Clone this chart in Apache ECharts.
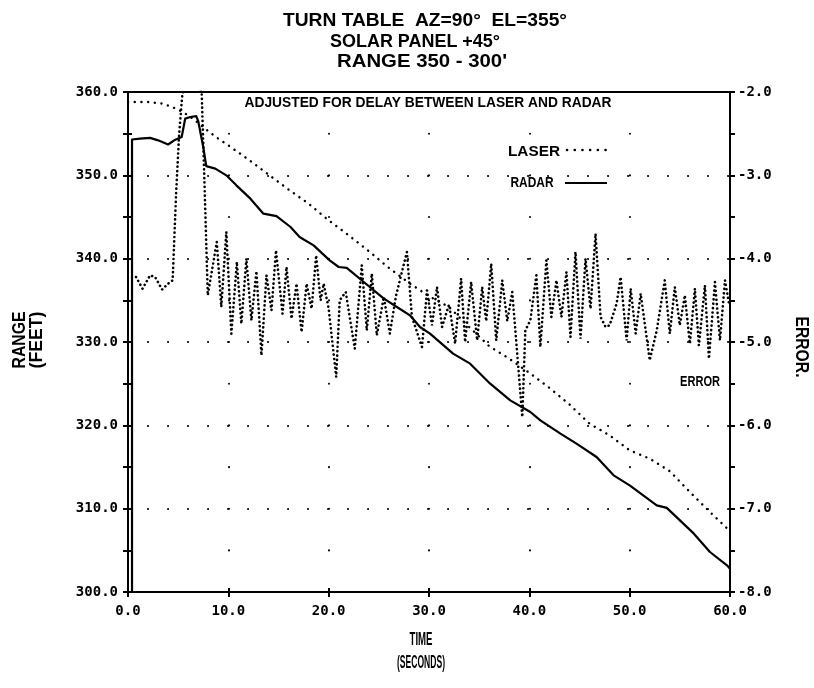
<!DOCTYPE html>
<html><head><meta charset="utf-8">
<script src="https://cdn.jsdelivr.net/npm/echarts@6/dist/echarts.min.js"></script>
<style>html,body{margin:0;padding:0;background:#fff}#c{width:814px;height:688px}</style>
</head><body><div id="c"></div>
<script>
// ---- tick labels ----
const timeTicks = [0, 10, 20, 30, 40, 50, 60];
const timeTickLabels = ['0.0', '10.0', '20.0', '30.0', '40.0', '50.0', '60.0'];
const rangeTicks = [300, 310, 320, 330, 340, 350, 360];
const rangeTickLabels = ['300.0', '310.0', '320.0', '330.0', '340.0', '350.0', '360.0'];
const errorTicks = [-8, -7, -6, -5, -4, -3, -2];
const errorTickLabels = ['-8.0', '-7.0', '-6.0', '-5.0', '-4.0', '-3.0', '-2.0'];

// ---- series data (time in seconds) ----
const laserTime  = [0, 2, 3.5, 5, 6, 7, 8, 9, 10, 12, 14, 16, 18, 20, 22, 24, 26, 28, 30, 32, 34, 36, 38, 40, 42, 44, 46, 48, 50, 52, 54, 56, 58, 60];
const laserRange = [358.8, 358.8, 358.6, 357.9, 357.2, 356.3, 355.3, 354.4, 353.6, 351.9, 350.1, 348.3, 346.6, 344.6, 342.8, 340.9, 338.9, 337.1, 335.5, 334.2, 331.8, 329.5, 328.0, 326.3, 324.5, 322.5, 320.2, 318.8, 317.0, 316.0, 314.5, 312.0, 309.6, 307.3];

const radarTime  = [0.4, 0.4, 1.2, 2.2, 3.0, 4.0, 4.6, 5.35, 5.7, 6.2, 6.8, 7.0, 7.5, 7.8, 8.7, 9.8, 10.8, 12.2, 13.5, 14.8, 16.2, 17.1, 18.5, 20.1, 21.0, 21.8, 23.5, 25.5, 26.8, 28.1, 29.1, 30.1, 32.4, 34.1, 36.1, 38.1, 40.1, 41.1, 43.1, 44.7, 46.7, 48.4, 50.0, 52.7, 53.7, 56.4, 58.0, 59.7, 60.0];
const radarRange = [300.0, 354.3, 354.4, 354.5, 354.2, 353.7, 354.2, 354.6, 356.8, 357.0, 357.1, 356.5, 353.4, 351.1, 350.8, 350.0, 348.8, 347.2, 345.4, 345.1, 343.8, 342.6, 341.6, 339.8, 339.0, 338.9, 337.2, 335.2, 334.2, 333.2, 331.8, 331.0, 328.6, 327.4, 325.0, 323.0, 321.6, 320.6, 319.0, 317.8, 316.2, 314.0, 312.8, 310.4, 310.1, 307.0, 304.8, 303.2, 302.8];

const errorTime  = [0.8, 1.45, 2.2, 2.7, 3.4, 4.0, 4.45, 4.8, 5.1, 5.4, 6.35, 7.35, 7.6, 7.95, 8.85, 9.3, 9.8, 10.3, 10.85, 11.3, 11.8, 12.3, 12.8, 13.3, 13.8, 14.3, 14.75, 15.4, 15.8, 16.3, 16.8, 17.3, 17.8, 18.3, 18.75, 19.2, 19.5, 20.0, 20.75, 21.1, 21.7, 22.6, 23.3, 23.8, 24.3, 24.8, 25.5, 26.1, 26.7, 27.8, 28.3, 29.3, 29.8, 30.3, 30.8, 31.3, 32.0, 32.6, 33.2, 33.6, 34.2, 34.8, 35.3, 35.7, 36.2, 36.7, 37.3, 37.8, 38.3, 39.3, 39.6, 40.1, 40.7, 41.1, 41.7, 42.2, 42.7, 43.2, 43.7, 44.1, 44.6, 45.1, 45.6, 46.1, 46.6, 47.1, 47.6, 48.0, 48.7, 49.1, 49.7, 50.1, 50.6, 51.1, 52.0, 52.7, 53.5, 54.0, 54.5, 55.0, 55.5, 56.0, 56.5, 56.9, 57.5, 57.9, 58.5, 59.0, 59.5, 59.9];
const errorValue = [-4.22, -4.36, -4.20, -4.22, -4.37, -4.30, -4.26, -3.2, -2.5, -2.05, -1.5, -2.03, -3.0, -4.44, -3.80, -4.58, -3.68, -4.90, -4.04, -4.78, -4.00, -4.74, -4.15, -5.16, -4.20, -4.62, -3.90, -4.66, -4.10, -4.72, -4.30, -4.88, -4.30, -4.60, -3.96, -4.50, -4.30, -4.60, -5.42, -4.50, -4.40, -5.08, -4.08, -4.86, -4.18, -4.92, -4.46, -4.90, -4.45, -3.92, -4.70, -5.06, -4.38, -4.80, -4.34, -4.82, -4.55, -5.02, -4.24, -5.00, -4.28, -4.98, -4.34, -4.75, -4.06, -4.98, -4.26, -4.75, -4.40, -5.90, -4.86, -4.74, -4.20, -5.06, -4.02, -4.70, -4.26, -4.70, -4.16, -4.94, -3.92, -4.96, -4.00, -4.60, -3.70, -4.70, -4.82, -4.80, -4.54, -4.22, -4.98, -4.36, -4.90, -4.42, -5.22, -4.86, -4.26, -4.90, -4.34, -4.80, -4.44, -5.02, -4.36, -5.04, -4.32, -5.20, -4.28, -4.98, -4.26, -4.54];

// ---- helpers ----
const zip = (a, b) => a.map((v, i) => [v, b[i]]);
const mctx = document.createElement('canvas').getContext('2d');
function fitScale(text, font, width) { mctx.font = font; return width / mctx.measureText(text).width; }
function label(text, cx, cy, width, size, rot, weight) {
  const font = (weight || 'bold') + ' ' + size + 'px "Liberation Sans", Arial, sans-serif';
  return { type: 'text', x: cx, y: cy, rotation: rot || 0, scaleX: fitScale(text, font, width), z: 100,
    style: { text: text, font: font, fill: '#000', align: 'center', verticalAlign: 'middle' } };
}
const tickFont = { color: '#000', fontFamily: '"DejaVu Sans Mono", monospace', fontWeight: 'bold', fontSize: 14 };
const blackLine = { color: '#000', width: 2 };

// inner halves of the cross-shaped ticks (same scales, no labels)
function innerTicks(base) {
  return Object.assign({
    axisLine: { show: false },
    axisTick: { show: true, inside: true, length: 4, lineStyle: blackLine },
    axisLabel: { show: false },
    splitLine: { show: false }
  }, base);
}

const chart = echarts.init(document.getElementById('c'), null, { renderer: 'canvas' });
chart.setOption({
  backgroundColor: '#fff',
  animation: false,
  grid: { left: 128, right: 84, top: 92, bottom: 96, show: true, borderColor: '#000', borderWidth: 2, backgroundColor: 'transparent' },
  xAxis: [{
    type: 'value', min: 0, max: 60, interval: 10,
    axisLine: { show: true, onZero: false, lineStyle: blackLine },
    axisTick: { show: true, length: 5, lineStyle: blackLine },
    axisLabel: Object.assign({ margin: 12, formatter: v => timeTickLabels[timeTicks.indexOf(v)] }, tickFont),
    splitLine: { show: true, lineStyle: { color: '#000', width: 2, type: [0.1, 41.57], cap: 'round', dashOffset: 0 } }
  }, innerTicks({ type: 'value', min: 0, max: 60, interval: 10, position: 'bottom' })],
  yAxis: [{
    type: 'value', min: 300, max: 360, interval: 10,
    axisLine: { show: true, onZero: false, lineStyle: blackLine },
    axisTick: { show: true, length: 5, lineStyle: blackLine },
    minorTick: { show: true, splitNumber: 2, length: 5, lineStyle: blackLine },
    axisLabel: Object.assign({ margin: 10, formatter: v => rangeTickLabels[rangeTicks.indexOf(v)] }, tickFont),
    splitLine: { show: true, lineStyle: { color: '#000', width: 2, type: [0.1, 19.9], cap: 'round', dashOffset: 0 } }
  }, {
    type: 'value', min: -8, max: -2, interval: 1, position: 'right',
    axisLine: { show: true, onZero: false, lineStyle: blackLine },
    axisTick: { show: true, length: 5, lineStyle: blackLine },
    minorTick: { show: true, splitNumber: 2, length: 5, lineStyle: blackLine },
    axisLabel: Object.assign({ margin: 8, formatter: v => errorTickLabels[errorTicks.indexOf(v)] }, tickFont),
    splitLine: { show: false }
  },
  innerTicks({ type: 'value', min: 300, max: 360, interval: 10, position: 'left',
    minorTick: { show: true, splitNumber: 2, length: 4, lineStyle: blackLine } }),
  innerTicks({ type: 'value', min: -8, max: -2, interval: 1, position: 'right',
    minorTick: { show: true, splitNumber: 2, length: 4, lineStyle: blackLine } })],
  series: [{
    name: 'LASER', type: 'line', yAxisIndex: 0, showSymbol: false, symbol: 'none', smooth: false,
    data: zip(laserTime, laserRange),
    lineStyle: { color: '#000', width: 2.4, type: [0.1, 6.6], cap: 'round' }
  }, {
    name: 'RADAR', type: 'line', yAxisIndex: 0, showSymbol: false, symbol: 'none',
    data: zip(radarTime, radarRange),
    lineStyle: { color: '#000', width: 2.2, type: 'solid', join: 'round' }
  }, {
    name: 'ERROR', type: 'line', yAxisIndex: 1, showSymbol: false, symbol: 'none', clip: true,
    data: zip(errorTime, errorValue),
    lineStyle: { color: '#000', width: 2.6, type: [0.1, 4.3], cap: 'round' }
  }],
  graphic: [
    label('TURN TABLE  AZ=90°  EL=355°', 425, 21, 284, 18),
    label('SOLAR PANEL +45°', 415, 42, 170, 18),
    label("RANGE 350 - 300'", 422, 62, 170, 18),
    label('ADJUSTED FOR DELAY BETWEEN LASER AND RADAR', 428, 103, 367, 15),
    label('LASER', 534, 152, 52, 15),
    { type: 'line', z: 100, shape: { x1: 567, y1: 150, x2: 607, y2: 150 }, style: { stroke: '#000', lineWidth: 2.6, lineDash: [0.1, 7.6], lineCap: 'round' } },
    label('RADAR', 532, 183, 43, 15),
    { type: 'line', z: 100, shape: { x1: 565, y1: 183, x2: 607, y2: 183 }, style: { stroke: '#000', lineWidth: 2.2 } },
    label('ERROR', 700, 382, 40, 15),
    label('TIME', 421, 640, 23, 18),
    label('(SECONDS)', 421, 663, 48, 18),
    label('RANGE', 20, 340, 57, 18, Math.PI / 2),
    label('(FEET)', 37, 340, 57, 18, Math.PI / 2),
    label('ERROR.', 801, 347, 61, 18, -Math.PI / 2)
  ]
});
</script>
</body></html>
